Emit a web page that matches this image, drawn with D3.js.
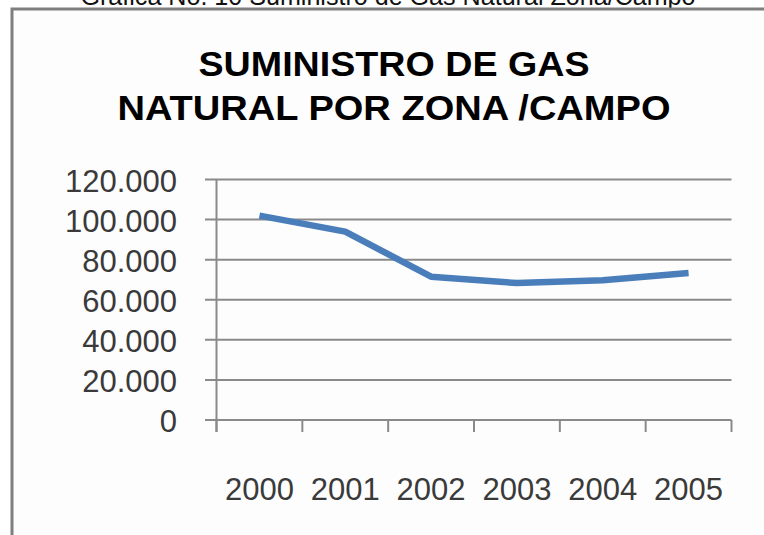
<!DOCTYPE html>
<html>
<head>
<meta charset="utf-8">
<script src="https://cdn.jsdelivr.net/npm/d3@7"></script>
<style>
  html, body { margin: 0; padding: 0; background: #ffffff; }
  svg { display: block; font-family: "Liberation Sans", Arial, sans-serif; }
</style>
</head>
<body>
<div id="chart"></div>
<script>
const years = ["2000", "2001", "2002", "2003", "2004", "2005"];
const supply = [102000, 94000, 71500, 68300, 69700, 73400];
const yTicks = [0, 20000, 40000, 60000, 80000, 100000, 120000];
const caption = "Gráfica No. 10 Suministro de Gas Natural Zona/Campo";
const titleLines = ["SUMINISTRO DE GAS", "NATURAL POR ZONA /CAMPO"];

const W = 764, H = 535;
const svg = d3.select("#chart").append("svg")
    .attr("width", W)
    .attr("height", H);

// caption above the frame (cut at the top in the source)
svg.append("text")
    .attr("x", 388)
    .attr("y", 5)
    .attr("text-anchor", "middle")
    .attr("font-size", 25)
    .attr("textLength", 615)
    .attr("lengthAdjust", "spacingAndGlyphs")
    .attr("fill", "#111")
    .text(caption);

// frame
svg.append("rect")
    .attr("x", 12).attr("y", 9)
    .attr("width", W + 20).attr("height", H + 20)
    .attr("fill", "#fdfdfd")
    .attr("stroke", "#7f7f7f")
    .attr("stroke-width", 3);

// title
const titleWidths = [391, 553];
const titleY = [76, 120];
titleLines.forEach(function(t, i) {
    svg.append("text")
        .attr("x", 394)
        .attr("y", titleY[i])
        .attr("text-anchor", "middle")
        .attr("font-size", 35)
        .attr("font-weight", "bold")
        .attr("textLength", titleWidths[i])
        .attr("lengthAdjust", "spacingAndGlyphs")
        .attr("fill", "#000")
        .text(t);
});

const x = d3.scaleBand()
    .domain(years)
    .range([216.5, 731.5])
    .padding(0);

const y = d3.scaleLinear()
    .domain([0, 120000])
    .range([420, 179.5]);

const locale = d3.formatLocale({decimal: ",", thousands: ".", grouping: [3], currency: ["$", ""]});
const fmt = locale.format(",d");

// gridlines + y ticks
svg.append("g")
    .selectAll("line")
    .data(yTicks)
    .enter().append("line")
    .attr("x1", 205)
    .attr("x2", 731.5)
    .attr("y1", d => y(d))
    .attr("y2", d => y(d))
    .attr("stroke", "#8a8a8a")
    .attr("stroke-width", 2);

svg.append("g")
    .selectAll("text")
    .data(yTicks)
    .enter().append("text")
    .attr("x", 177)
    .attr("y", d => y(d) + 1.5)
    .attr("text-anchor", "end")
    .attr("dominant-baseline", "central")
    .attr("font-size", 31)
    .attr("fill", "#3a3a3a")
    .text(d => fmt(d));

// y axis line
svg.append("line")
    .attr("x1", x.range()[0]).attr("x2", x.range()[0])
    .attr("y1", y(120000)).attr("y2", y(0) + 12)
    .attr("stroke", "#8a8a8a")
    .attr("stroke-width", 2);

// x axis ticks at category boundaries
const bounds = years.map(d => x(d)).concat([x(years[years.length - 1]) + x.bandwidth()]);
svg.append("g")
    .selectAll("line")
    .data(bounds)
    .enter().append("line")
    .attr("x1", d => d).attr("x2", d => d)
    .attr("y1", y(0)).attr("y2", y(0) + 12)
    .attr("stroke", "#8a8a8a")
    .attr("stroke-width", 2);

svg.append("g")
    .selectAll("text")
    .data(years)
    .enter().append("text")
    .attr("x", d => x(d) + x.bandwidth() / 2)
    .attr("y", 500)
    .attr("text-anchor", "middle")
    .attr("font-size", 31)
    .attr("fill", "#3a3a3a")
    .text(d => d);

// series line
const line = d3.line()
    .x((d, i) => x(years[i]) + x.bandwidth() / 2)
    .y(d => y(d));

svg.append("path")
    .datum(supply)
    .attr("d", line)
    .attr("fill", "none")
    .attr("stroke", "#4a7ebb")
    .attr("stroke-width", 6.5)
    .attr("stroke-linejoin", "round");
</script>
</body>
</html>
